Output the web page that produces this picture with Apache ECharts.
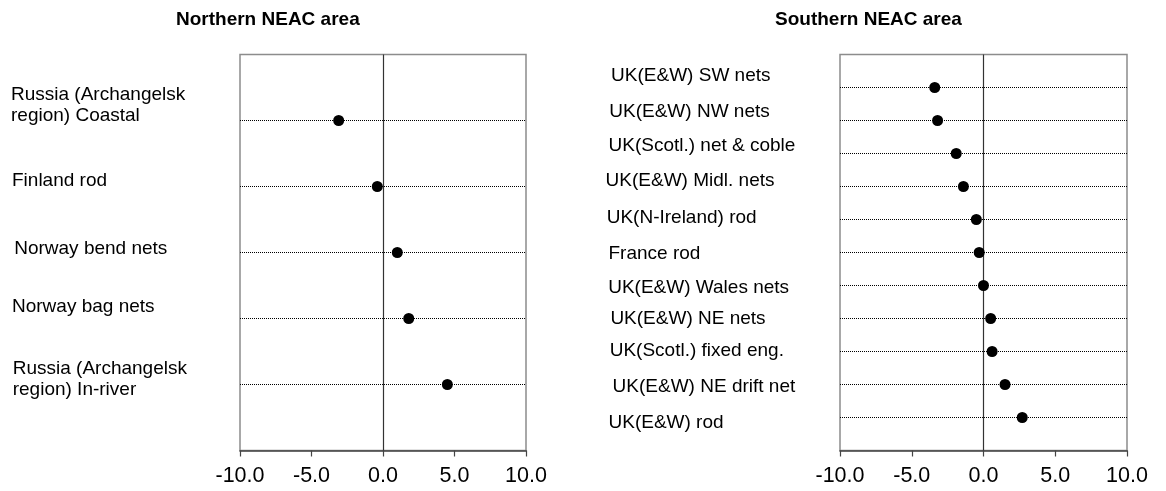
<!DOCTYPE html>
<html>
<head>
<meta charset="utf-8">
<script src="https://cdn.jsdelivr.net/npm/echarts@6/dist/echarts.min.js"></script>
<style>
  html, body { margin: 0; padding: 0; background: #fff; }
  #chart { width: 1166px; height: 491px; }
</style>
</head>
<body>
<div id="chart"></div>
<script>
// Fisheries in the northern NEAC area, listed top to bottom
const northNames = [
  'Russia (Archangelsk\nregion) Coastal',
  'Finland rod',
  'Norway bend nets',
  'Norway bag nets',
  'Russia (Archangelsk\nregion) In-river'
];
const northValues = [-3.1, -0.4, 1.0, 1.8, 4.5];

// Fisheries in the southern NEAC area, listed top to bottom
const southNames = [
  'UK(E&W) SW nets',
  'UK(E&W) NW nets',
  'UK(Scotl.) net & coble',
  'UK(E&W) Midl. nets',
  'UK(N-Ireland) rod',
  'France rod',
  'UK(E&W) Wales nets',
  'UK(E&W) NE nets',
  'UK(Scotl.) fixed eng.',
  'UK(E&W) NE drift net',
  'UK(E&W) rod'
];
const southValues = [-3.4, -3.2, -1.9, -1.4, -0.5, -0.3, 0.0, 0.5, 0.6, 1.5, 2.7];

const panelTitles = ['Northern NEAC area', 'Southern NEAC area'];
const xTicks = [-10, -5, 0, 5, 10];

// Hand placement of the row captions: [dx, dy] relative to the caption column / row line
const northNudge = [[-1, -15.5], [0, -5.8], [2.2, -4.2], [0, -11.5], [0.7, -5.7]];
const southNudge = [[2.6, -11.8], [0.8, -9.2], [0, -7.3], [-2.9, -5.5], [-1.8, -1.8],
                    [0, 1.5], [-0.3, 1.8], [1.9, 0.5], [1.2, -0.8], [4.1, 2.2], [0, 5.2]];

const FONT = "'Liberation Sans', Arial, Helvetica, sans-serif";

const panels = [
  { names: northNames, values: northValues, nudge: northNudge, title: panelTitles[0],
    grid: { left: 240, top: 54.5, width: 286, height: 396 }, titleLeft: 176, captionX: 12 },
  { names: southNames, values: southValues, nudge: southNudge, title: panelTitles[1],
    grid: { left: 840, top: 54.5, width: 287, height: 396 }, titleLeft: 775, captionX: 608.5 }
];

const chart = echarts.init(document.getElementById('chart'), null, { renderer: 'canvas' });

const option = {
  animation: false,
  backgroundColor: '#ffffff',
  title: panels.map(p => ({
    text: p.title,
    left: p.titleLeft,
    top: 10,
    padding: 0,
    textStyle: { fontFamily: FONT, fontSize: 19, fontWeight: 'bold', color: '#000' }
  })),
  grid: panels.map(p => Object.assign({
    show: true,
    borderColor: '#8c8c8c',
    borderWidth: 1.5,
    backgroundColor: 'transparent',
    containLabel: false
  }, p.grid)),
  xAxis: panels.map((p, i) => ({
    type: 'value',
    gridIndex: i,
    min: xTicks[0],
    max: xTicks[xTicks.length - 1],
    interval: xTicks[1] - xTicks[0],
    axisLine: { show: true, onZero: false, lineStyle: { color: '#444', width: 1.5 } },
    axisTick: { show: true, inside: false, length: 6, lineStyle: { color: '#444', width: 1.2 } },
    splitLine: { show: false },
    axisLabel: {
      margin: 15,
      fontFamily: FONT,
      fontSize: 21.5,
      color: '#000',
      formatter: v => v.toFixed(1)
    }
  })),
  yAxis: panels.map((p, i) => ({
    type: 'value',
    gridIndex: i,
    min: 0,
    max: p.names.length + 1,
    interval: 1,
    inverse: true,
    show: false
  })),
  series: panels.map((p, i) => ({
    type: 'scatter',
    xAxisIndex: i,
    yAxisIndex: i,
    symbol: 'circle',
    symbolSize: 11,
    itemStyle: { color: '#000', opacity: 1 },
    z: 5,
    data: p.values.map((v, k) => [v, k + 1]),
    markLine: {
      silent: true,
      symbol: ['none', 'none'],
      label: { show: false },
      emphasis: { disabled: true },
      data: [
        // zero reference line
        { xAxis: 0, lineStyle: { type: 'solid', color: '#333', width: 1.2 } }
      ].concat(p.values.map((v, k) => ({
        // dotted guide line for each fishery row
        yAxis: k + 1,
        lineStyle: { type: 'dotted', color: '#000', width: 1 }
      })))
    }
  }))
};

chart.setOption(option);

// Row captions, placed at each row's position on the panel's own scale
const captions = [];
panels.forEach((p, gi) => {
  p.names.forEach((name, k) => {
    const pt = chart.convertToPixel({ seriesIndex: gi }, [0, k + 1]);
    const [dx, dy] = p.nudge[k];
    captions.push({
      type: 'text',
      x: p.captionX + dx,
      y: pt[1] + dy,
      silent: true,
      style: {
        text: name,
        fontFamily: FONT,
        fontSize: 19,
        lineHeight: 21,
        fill: '#000',
        align: 'left',
        verticalAlign: 'middle'
      }
    });
  });
});
chart.setOption({ graphic: captions });
</script>
</body>
</html>
